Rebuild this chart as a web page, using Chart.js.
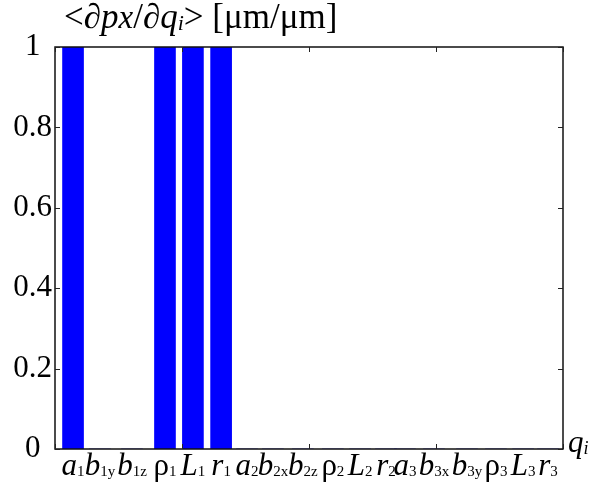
<!DOCTYPE html>
<html>
<head>
<meta charset="utf-8">
<script src="https://cdn.jsdelivr.net/npm/chart.js@4.4.1/dist/chart.umd.min.js"></script>
<style>
  html, body { margin: 0; padding: 0; background: #fff; }
  #wrap { width: 589px; height: 492px; }
</style>
</head>
<body>
<div id="wrap"><canvas id="qiChart"></canvas></div>
<script>
// categories: main symbol + subscript
var qMain = ['a', 'b', 'b', 'ρ', 'L', 'r', 'a', 'b', 'b', 'ρ', 'L', 'r', 'a', 'b', 'b', 'ρ', 'L', 'r'];
var qSub = ['1', '1y', '1z', '1', '1', '1', '2', '2x', '2z', '2', '2', '2', '3', '3x', '3y', '3', '3', '3'];
// x position of each category on the 0..20 axis
var qPos = [0.71, 1.77, 3.03, 4.33, 5.43, 6.54, 7.56, 8.58, 9.76, 10.94, 12.01, 13.03, 13.78, 14.92, 16.22, 17.36, 18.43, 19.41];
// <dpx/dqi>
var dpxValues = [1, 0, 0, 1, 1, 1, 0, 0, 0, 0, 0, 0, 0, 0, 0, 0, 0, 0];
var yTicks = [0, 0.2, 0.4, 0.6, 0.8, 1];

var serif = "'Liberation Serif', 'DejaVu Serif', serif";

var decor = {
    id: 'decor',
    afterDatasetsDraw: function (chart) {
        var ctx = chart.ctx;
        var a = chart.chartArea;
        var xs = chart.scales.x;
        var ys = chart.scales.y;
        ctx.save();

        // box
        ctx.strokeStyle = '#111';
        ctx.lineWidth = 1.5;
        ctx.strokeRect(a.left, a.top, a.right - a.left, a.bottom - a.top);

        // inward ticks
        ctx.lineWidth = 1;
        ctx.strokeStyle = '#222';
        ctx.beginPath();
        ys.ticks.forEach(function (t) {
            var y = Math.round(ys.getPixelForValue(t.value)) + 0.5;
            ctx.moveTo(a.left, y); ctx.lineTo(a.left + 5, y);
            ctx.moveTo(a.right, y); ctx.lineTo(a.right - 5, y);
        });
        xs.ticks.forEach(function (t) {
            var x = Math.round(xs.getPixelForValue(t.value)) + 0.5;
            ctx.moveTo(x, a.bottom); ctx.lineTo(x, a.bottom - 5);
            ctx.moveTo(x, a.top); ctx.lineTo(x, a.top + 5);
        });
        ctx.stroke();

        // category labels with subscripts
        ctx.fillStyle = '#000';
        ctx.textBaseline = 'alphabetic';
        ctx.textAlign = 'left';
        var mainFont = function (ch) { return (ch === 'ρ' ? '' : 'italic ') + '31px ' + serif; };
        var subFont = '15px ' + serif;
        for (var i = 0; i < qMain.length; i++) {
            var cx = xs.getPixelForValue(qPos[i]);
            ctx.font = mainFont(qMain[i]);
            var w1 = ctx.measureText(qMain[i]).width;
            ctx.font = subFont;
            var w2 = ctx.measureText(qSub[i]).width;
            var x0 = cx - (w1 + w2) / 2;
            ctx.font = mainFont(qMain[i]);
            ctx.fillText(qMain[i], x0, 475);
            ctx.font = subFont;
            ctx.fillText(qSub[i], x0 + w1, 476);
        }

        // x axis name
        ctx.font = 'italic 31px ' + serif;
        ctx.fillText('q', a.right + 5, 452);
        var wq = ctx.measureText('q').width;
        ctx.font = 'italic 18px ' + serif;
        ctx.fillText('i', a.right + 5 + wq, 454);

        // title <dpx/dqi> [um/um]
        var parts = [
            ['<', '', 35, 0], ['∂', 'italic ', 35, 0], ['p', 'italic ', 35, 0], ['x', 'italic ', 33, 0],
            ['/', '', 35, 0], ['∂', 'italic ', 35, 0], ['q', 'italic ', 35, 0], ['i', 'italic ', 22, 2],
            ['>', '', 35, 0], [' [μm/μm]', '', 35, 0]
        ];
        var tx = 64;
        parts.forEach(function (p) {
            ctx.font = p[1] + p[2] + 'px ' + serif;
            ctx.fillText(p[0], tx, 28 + p[3]);
            tx += ctx.measureText(p[0]).width;
        });
        ctx.restore();
    }
};

var ctxq = document.getElementById('qiChart').getContext('2d');
var qiChart = new Chart(ctxq, {
    type: 'bar',
    data: {
        datasets: [
            {
                label: '<dpx/dqi>',
                backgroundColor: '#0000ff',
                borderWidth: 0,
                barThickness: 21,
                data: qPos.map(function (x, i) { return { x: x, y: dpxValues[i] }; })
            }
        ]
    },
    options: {
        responsive: true,
        maintainAspectRatio: false,
        animation: false,
        layout: { padding: { left: 10, top: 47, right: 26, bottom: 0 } },
        plugins: { legend: { display: false }, tooltip: { enabled: false }, title: { display: false } },
        scales: {
            x: {
                type: 'linear',
                min: 0,
                max: 20,
                offset: false,
                grid: { display: false, drawTicks: false, offset: false },
                border: { display: false },
                ticks: { display: false, stepSize: 5 },
                afterFit: function (s) { s.height = 43; }
            },
            y: {
                min: 0,
                max: 1,
                grid: { display: false, drawTicks: false },
                border: { display: false },
                afterBuildTicks: function (s) { s.ticks = yTicks.map(function (v) { return { value: v }; }); },
                ticks: {
                    padding: 3,
                    crossAlign: 'center',
                    color: '#000',
                    font: { family: serif, size: 31 },
                    callback: function (v) { return String(Math.round(v * 10) / 10); }
                },
                afterFit: function (s) { s.width = 45; }
            }
        }
    },
    plugins: [decor]
});
</script>
</body>
</html>
